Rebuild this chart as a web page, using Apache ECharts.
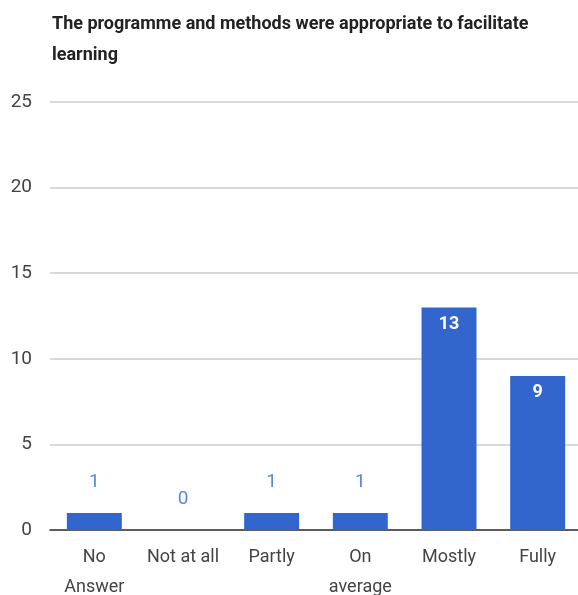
<!DOCTYPE html>
<html>
<head>
<meta charset="utf-8">
<script src="https://cdn.jsdelivr.net/npm/echarts@6/dist/echarts.min.js"></script>
<style>
  html, body { margin: 0; padding: 0; background: #fff; }
  #chart { width: 578px; height: 595px; }
</style>
</head>
<body>
<div id="chart"></div>
<script>
// Survey responses for one feedback question
const chartTitle = 'The programme and methods were appropriate to facilitate\nlearning';
const categories = ['No\nAnswer', 'Not at all', 'Partly', 'On\naverage', 'Mostly', 'Fully'];
const responses = [1, 0, 1, 1, 13, 9];
const yTicks = { min: 0, max: 25, interval: 5 };

const FONT = '"Liberation Sans Narrow", "Roboto", "Liberation Sans", sans-serif';
const BAR_BLUE = '#3366cc';

// Small bars carry their count above in blue, tall bars inside in white
const seriesData = responses.map(v => {
  const inside = v >= 5;
  return {
    value: v,
    label: inside
      ? { position: 'insideTop', distance: 8, color: '#ffffff', fontWeight: 'bold', fontSize: 18 }
      : { position: 'top', distance: 21, color: '#5b87d9', fontWeight: 'normal', fontSize: 19 }
  };
});

const chart = echarts.init(document.getElementById('chart'), null, { renderer: 'canvas' });
chart.setOption({
  animation: false,
  backgroundColor: '#ffffff',
  title: {
    text: chartTitle,
    left: 47,
    top: 4,
    textStyle: {
      fontFamily: FONT,
      fontSize: 18,
      fontWeight: 'bold',
      color: '#222222',
      lineHeight: 31
    }
  },
  grid: {
    left: 50, right: -4, top: 102, bottom: 65,
    containLabel: false,
    outerBoundsMode: 'none'
  },
  xAxis: {
    type: 'category',
    data: categories,
    axisLine: { show: true, lineStyle: { color: '#333333', width: 1.5 } },
    axisTick: { show: false },
    axisLabel: {
      interval: 0,
      margin: 12,
      color: '#444444',
      fontFamily: FONT,
      fontSize: 18,
      lineHeight: 30
    }
  },
  yAxis: {
    type: 'value',
    min: yTicks.min,
    max: yTicks.max,
    interval: yTicks.interval,
    axisLine: { show: false },
    axisTick: { show: false },
    splitLine: { lineStyle: { color: '#cccccc', width: 1.5 } },
    axisLabel: {
      margin: 18,
      color: '#444444',
      fontFamily: FONT,
      fontSize: 19
    }
  },
  series: [{
    type: 'bar',
    data: seriesData,
    barWidth: '62%',
    itemStyle: { color: BAR_BLUE },
    label: { show: true, fontFamily: FONT }
  }]
});
</script>
</body>
</html>
